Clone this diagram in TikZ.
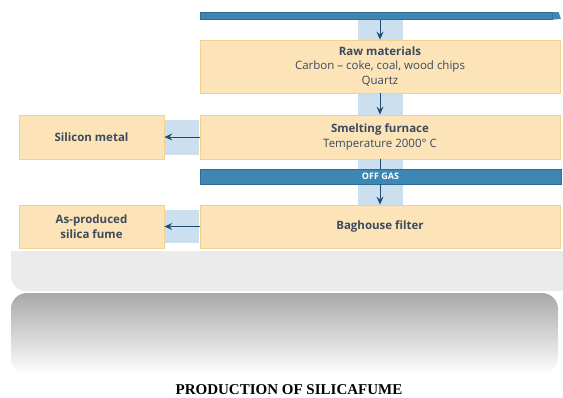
\documentclass[tikz,border=0pt]{standalone}
\usepackage{fontspec}
\setmainfont{Liberation Serif}
\newfontfamily\boxfont[Ligatures=TeX]{Open Sans}
\usetikzlibrary{
  positioning,
  arrows.meta,
  backgrounds
}

\definecolor{boxfill}{HTML}{FDE4B8}
\definecolor{boxedge}{HTML}{F3CF90}
\definecolor{barblue}{HTML}{3F87B3}
\definecolor{baredge}{HTML}{2D6C95}
\definecolor{bandblue}{HTML}{CCDFEE}
\definecolor{arrowblue}{HTML}{1E4C72}
\definecolor{textgray}{HTML}{3B4A5C}
\definecolor{panelgray}{HTML}{EBEBEB}
\definecolor{shadegray}{HTML}{A8A8A8}

\begin{document}
\begin{tikzpicture}[
  x=1pt, y=-1pt,
  every node/.style={font=\boxfont\fontsize{11.5}{14.5}\selectfont, text=textgray},
  stepbox/.style={draw=boxedge, fill=boxfill, line width=0.8pt, align=center, inner sep=0pt},
  wide/.style={stepbox, minimum width=360pt},
  side/.style={stepbox, minimum width=145pt},
  gasbar/.style={draw=baredge, fill=barblue, line width=0.6pt, inner sep=0pt, text=white,
    font=\boxfont\bfseries\fontsize{9}{10}\selectfont},
  arrow/.style={draw=arrowblue, line width=1pt, -{Stealth[length=8pt, width=7pt, inset=3pt]}}
]
\useasboundingbox (0,0) rectangle (563,397);

% Nodes
\node[gasbar, minimum width=352pt, minimum height=7pt, anchor=north west] (feed) at (200,12) {};
\node[wide, minimum height=53pt] (raw) at (380,66.5) {\textbf{Raw materials}\\ Carbon -- coke, coal, wood chips\\ Quartz};
\node[wide, minimum height=44pt] (smelt) at (380,137) {\textbf{Smelting furnace}\\ Temperature 2000° C};
\node[side, minimum height=44pt] (silicon) at (91.5,137) {\textbf{Silicon metal}};
\node[gasbar, minimum width=361pt, minimum height=15pt] (offgas) at (380.5,176.5) {OFF GAS};
\node[wide, minimum height=43pt] (baghouse) at (380,226.5) {\textbf{Baghouse filter}};
\node[side, minimum height=43pt] (fume) at (91.5,226.5) {\textbf{As-produced}\\ \textbf{silica fume}};

\node[font=\rmfamily\bfseries\fontsize{15}{17}\selectfont, text=black] (caption) at (289,390) {PRODUCTION OF SILICAFUME};

% tip of the feed bar
\fill[barblue] (feed.north east) -- ++(6,0) -- (561,19) -- (feed.south east) -- cycle;

% Bands and panels
\begin{scope}[on background layer]
  \fill[bandblue] (358,19) rectangle (403,205);
  \fill[bandblue] (164,120) rectangle (199,155);
  \fill[bandblue] (164,210) rectangle (199,243);
  \begin{scope}
    \clip (0,251) rectangle (563,397);
    \fill[panelgray, rounded corners=15pt] (11,220) rectangle (600,291);
  \end{scope}
  \shade[top color=shadegray, bottom color=white, rounded corners=16pt] (11,293) rectangle (558,374);
\end{scope}

% Arrows
\draw[arrow] (feed.south -| raw.north) -- (raw.north);
\draw[arrow] (raw) -- (smelt);
\draw[draw=arrowblue, line width=1pt] (smelt.south) -- (offgas.north -| smelt.south);
\draw[arrow] (offgas.south -| baghouse.north) -- (baghouse.north);
\draw[arrow] (smelt) -- (silicon);
\draw[arrow] (baghouse) -- (fume);

\end{tikzpicture}
\end{document}
